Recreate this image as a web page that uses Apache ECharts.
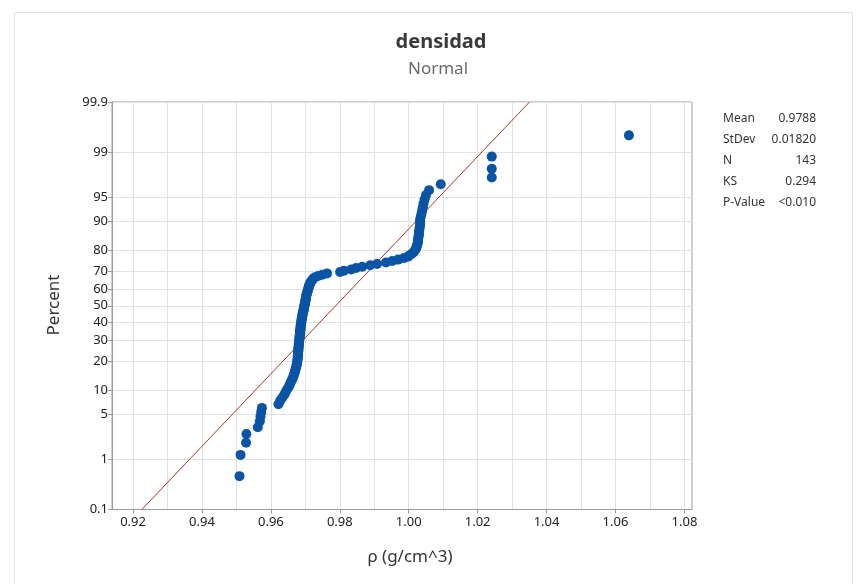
<!DOCTYPE html>
<html><head><meta charset="utf-8">
<script src="https://cdn.jsdelivr.net/npm/echarts@6/dist/echarts.min.js"></script>
<style>html,body{margin:0;padding:0;background:#fff}#c{width:859px;height:584px}</style>
</head><body><div id="c"></div>
<script>
// sorted density values (g/cm^3)
const densityValues = [
  0.9509, 0.9512, 0.9528, 0.9529, 0.9562, 0.9568, 0.9570, 0.9572, 0.9574, 0.9622,
  0.9627, 0.9633, 0.9639, 0.9643, 0.9647, 0.9652, 0.9655, 0.9658, 0.9661, 0.9664,
  0.9666, 0.9668, 0.9670, 0.9671, 0.9673, 0.9674, 0.9675, 0.9676, 0.9677, 0.9677,
  0.9678, 0.9678, 0.9679, 0.9679, 0.9679, 0.9680, 0.9680, 0.9680, 0.9681, 0.9681,
  0.9681, 0.9682, 0.9682, 0.9683, 0.9683, 0.9683, 0.9684, 0.9684, 0.9685, 0.9685,
  0.9685, 0.9686, 0.9686, 0.9686, 0.9687, 0.9687, 0.9688, 0.9688, 0.9689, 0.9689,
  0.9690, 0.9690, 0.9691, 0.9692, 0.9692, 0.9693, 0.9694, 0.9695, 0.9695, 0.9696,
  0.9697, 0.9697, 0.9698, 0.9699, 0.9699, 0.9700, 0.9701, 0.9701, 0.9702, 0.9702,
  0.9703, 0.9704, 0.9705, 0.9706, 0.9707, 0.9708, 0.9709, 0.9710, 0.9711, 0.9712,
  0.9714, 0.9715, 0.9718, 0.9721, 0.9723, 0.9728, 0.9737, 0.9749, 0.9763, 0.9801,
  0.9812, 0.9833, 0.9847, 0.9865, 0.9888, 0.9908, 0.9934, 0.9952, 0.9969, 0.9986,
  0.9998, 1.0004, 1.0010, 1.0015, 1.0018, 1.0021, 1.0023, 1.0024, 1.0026, 1.0027,
  1.0027, 1.0028, 1.0029, 1.0030, 1.0030, 1.0031, 1.0032, 1.0033, 1.0033, 1.0033,
  1.0035, 1.0037, 1.0039, 1.0041, 1.0043, 1.0046, 1.0050, 1.0059, 1.0093, 1.0241,
  1.0241, 1.0241, 1.0639
];
const percentTicks = [0.1, 1, 5, 10, 20, 30, 40, 50, 60, 70, 80, 90, 95, 99, 99.9];
const xTickLabels = [0.92, 0.94, 0.96, 0.98, 1.00, 1.02, 1.04, 1.06, 1.08];
const xGridValues = [0.92, 0.93, 0.94, 0.95, 0.96, 0.97, 0.98, 0.99, 1.00, 1.01, 1.02, 1.03, 1.04, 1.05, 1.06, 1.07, 1.08];
const statLabels = ['Mean', 'StDev', 'N', 'KS', 'P-Value'];
const statValues = ['0.9788', '0.01820', '143', '0.294', '<0.010'];
const titleText = 'densidad';
const subtitleText = 'Normal';
const xName = 'ρ (g/cm^3)';
const yName = 'Percent';
const fitMean = 0.9788;
const fitStDev = 0.01820;

// inverse standard normal CDF (probability-axis transform)
function normInv(p) {
  const a = [-3.969683028665376e+01, 2.209460984245205e+02, -2.759285104469687e+02, 1.383577518672690e+02, -3.066479806614716e+01, 2.506628277459239e+00];
  const b = [-5.447609879822406e+01, 1.615858368580409e+02, -1.556989798598866e+02, 6.680131188771972e+01, -1.328068155288572e+01];
  const c = [-7.784894002430293e-03, -3.223964580411365e-01, -2.400758277161838e+00, -2.549732539343734e+00, 4.374664141464968e+00, 2.938163982698783e+00];
  const d = [7.784695709041462e-03, 3.224671290700398e-01, 2.445134137142996e+00, 3.754408661907416e+00];
  const pl = 0.02425, ph = 1 - pl;
  let q, r;
  if (p < pl) { q = Math.sqrt(-2 * Math.log(p)); return (((((c[0]*q+c[1])*q+c[2])*q+c[3])*q+c[4])*q+c[5]) / ((((d[0]*q+d[1])*q+d[2])*q+d[3])*q+1); }
  if (p <= ph) { q = p - 0.5; r = q*q; return (((((a[0]*r+a[1])*r+a[2])*r+a[3])*r+a[4])*r+a[5])*q / (((((b[0]*r+b[1])*r+b[2])*r+b[3])*r+b[4])*r+1); }
  q = Math.sqrt(-2 * Math.log(1 - p));
  return -(((((c[0]*q+c[1])*q+c[2])*q+c[3])*q+c[4])*q+c[5]) / ((((d[0]*q+d[1])*q+d[2])*q+d[3])*q+1);
}

const n = densityValues.length;
const points = densityValues.map((v, i) => [v, normInv((i + 1 - 0.3) / (n + 0.4))]);
const zTicks = percentTicks.map(p => normInv(p / 100));
const zMin = zTicks[0], zMax = zTicks[zTicks.length - 1];
const fitLine = [[fitMean + fitStDev * zMin, zMin], [fitMean + fitStDev * zMax, zMax]];

const FONT = 'Noto Sans';
const axisGray = '#9c9c9c';
const gridGray = '#e1e1e1';

const chart = echarts.init(document.getElementById('c'), null, { renderer: 'canvas' });
const texts = [
  { type: 'text', x: 441, y: 42, style: { text: titleText, font: 'bold 20px ' + FONT, fill: '#3a3a3a', textAlign: 'center', textVerticalAlign: 'middle' } },
  { type: 'text', x: 438, y: 69, style: { text: subtitleText, font: '17px ' + FONT, fill: '#6a6a6a', textAlign: 'center', textVerticalAlign: 'middle' } },
  { type: 'text', x: 410, y: 557, style: { text: xName, font: '17px ' + FONT, fill: '#333', textAlign: 'center', textVerticalAlign: 'middle' } },
  { type: 'text', x: 54, y: 305, rotation: Math.PI / 2, style: { text: yName, font: '17px ' + FONT, fill: '#333', textAlign: 'center', textVerticalAlign: 'middle' } }
];
statLabels.forEach((s, k) => {
  texts.push({ type: 'text', x: 723, y: 119 + k * 21, style: { text: s, font: '12px ' + FONT, fill: '#333', textAlign: 'left', textVerticalAlign: 'middle' } });
  texts.push({ type: 'text', x: 816, y: 119 + k * 21, style: { text: statValues[k], font: '12px ' + FONT, fill: '#333', textAlign: 'right', textVerticalAlign: 'middle' } });
});

chart.setOption({
  backgroundColor: '#fff',
  animation: false,
  graphic: [
    { type: 'rect', left: 12, top: 10, shape: { width: 838, height: 600 }, style: { fill: 'none', stroke: '#e2e2e2', lineWidth: 1 }, silent: true, z: -10 }
  ].concat(texts),
  grid: { left: 112, right: 167, top: 102, bottom: 74.5, show: true, borderColor: axisGray, borderWidth: 1, backgroundColor: 'transparent' },
  xAxis: [
    {
      type: 'value', min: 0.9139, max: 1.0822,
      axisLine: { show: true, onZero: false, lineStyle: { color: axisGray } },
      axisTick: { show: true, length: 4, lineStyle: { color: axisGray }, customValues: xTickLabels },
      axisLabel: { customValues: xTickLabels, fontFamily: FONT, fontSize: 13, color: '#222', margin: 6, formatter: v => v.toFixed(2) },
      splitLine: { show: false }
    },
    {
      type: 'value', min: 0.9139, max: 1.0822, position: 'bottom',
      axisLine: { show: false, onZero: false },
      axisTick: { show: false, customValues: xGridValues },
      axisLabel: { show: false, customValues: xGridValues },
      splitLine: { show: true, lineStyle: { color: gridGray, width: 1 } }
    }
  ],
  yAxis: {
    type: 'value', min: zMin, max: zMax,
    axisLine: { show: true, onZero: false, lineStyle: { color: axisGray } },
    axisTick: { show: true, length: 4, lineStyle: { color: axisGray }, customValues: zTicks },
    axisLabel: {
      customValues: zTicks, fontFamily: FONT, fontSize: 13, color: '#222', margin: 4,
      formatter: v => {
        let best = 0;
        zTicks.forEach((z, k) => { if (Math.abs(z - v) < Math.abs(zTicks[best] - v)) best = k; });
        return String(percentTicks[best]);
      }
    },
    splitLine: { show: true, lineStyle: { color: gridGray, width: 1 } }
  },
  series: [
    {
      type: 'line', data: fitLine, showSymbol: false, symbol: 'none', silent: true,
      lineStyle: { color: '#b0302a', width: 1 }, z: 2
    },
    {
      type: 'scatter', data: points, symbol: 'circle', symbolSize: 10,
      itemStyle: { color: '#0a54a6', opacity: 1 }, z: 3
    }
  ]
});
</script>
</body></html>
